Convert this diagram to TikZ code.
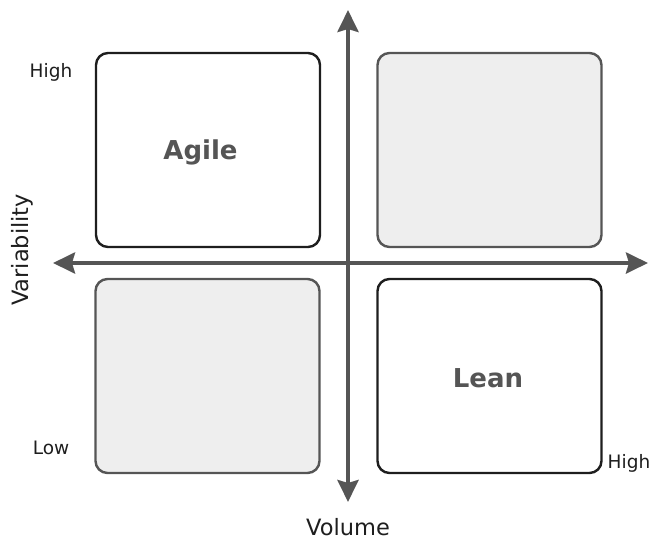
\documentclass[tikz,border=0pt]{standalone}
\usepackage{fontspec}
\setmainfont{DejaVu Sans}
\definecolor{axisgrey}{RGB}{85, 85, 85}
\definecolor{boxgrey}{RGB}{238, 238, 238}
\definecolor{edgedark}{RGB}{30, 30, 30}
\usetikzlibrary{arrows.meta, positioning}

\begin{document}
\begin{tikzpicture}[
  x=1pt, y=-1pt,
  quad/.style={draw=edgedark, fill=white, line width=2.4pt, rounded corners=12pt, minimum width=224pt, minimum height=194pt, inner sep=0pt},
  quadgrey/.style={quad, draw=axisgrey, fill=boxgrey},
  axisline/.style={draw=axisgrey, line width=4pt, {Stealth[length=22pt, width=21pt, inset=3pt]}-{Stealth[length=22pt, width=21pt, inset=3pt]}},
  tag/.style={font=\fontsize{18.5}{20}\selectfont, text=edgedark, inner sep=0pt},
  axlabel/.style={font=\fontsize{22.5}{24}\selectfont, text=edgedark, inner sep=0pt},
  quadname/.style={font=\fontsize{26}{28}\selectfont\bfseries, text=axisgrey, inner sep=0pt}
]
  \useasboundingbox (0, 0) rectangle (649, 544);

  % quadrants
  \node[quad] (agilebox) at (208, 150) {};
  \node[quadgrey] (topright) at (489.5, 150) {};
  \node[quadgrey] (bottomleft) at (207.5, 376) {};
  \node[quad] (leanbox) at (489.5, 376) {};

  \node[quadname] (agile) at (200.5, 152) {Agile};
  \node[quadname] (lean) at (488, 378) {Lean};

  % axes
  \coordinate (vtop) at (348, 10);
  \coordinate (vbottom) at (348, 502);
  \coordinate (hleft) at (53, 263);
  \coordinate (hright) at (648, 263);
  \draw[axisline] (vbottom) -- (vtop);
  \draw[axisline] (hleft) -- (hright);

  % labels
  \node[tag] (highv) at (51, 72) {High};
  \node[tag] (lowv) at (51, 448) {Low};
  \node[tag] (highh) at (629, 463) {High};
  \node[axlabel, rotate=90] (variability) at (22, 250) {Variability};
  \node[axlabel] (volume) at (348, 527) {Volume};
\end{tikzpicture}
\end{document}
